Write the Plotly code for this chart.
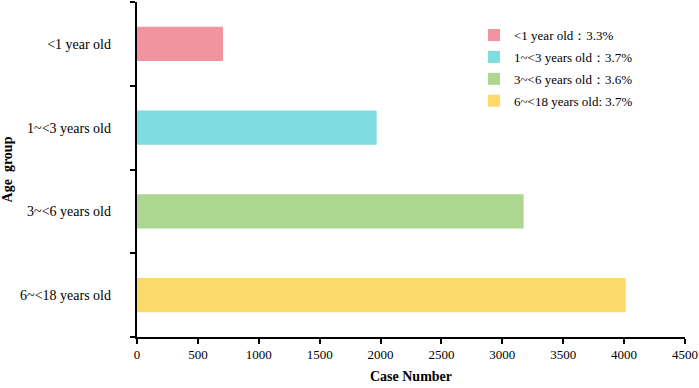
import plotly.graph_objects as go

categories = ["<1 year old", "1~<3 years old", "3~<6 years old", "6~<18 years old"]
case_numbers = [706, 1968, 3175, 4013]
legend_labels = ["<1 year old：3.3%", "1~<3 years old：3.7%", "3~<6 years old：3.6%", "6~<18 years old: 3.7%"]
colors = ["#F2949F", "#7EDDDE", "#ADD690", "#FDD96A"]
x_ticks = [0, 500, 1000, 1500, 2000, 2500, 3000, 3500, 4000, 4500]

FONT = "Liberation Serif, Times New Roman, serif"

positions = list(range(len(categories)))
boundaries = [p - 0.5 for p in positions] + [positions[-1] + 0.5]
yrange = [positions[-1] + 0.5, positions[0] - 0.5]

fig = go.Figure()
for pos, val, lab, col in zip(positions, case_numbers, legend_labels, colors):
    fig.add_trace(go.Bar(
        y=[pos], x=[val], orientation="h", name=lab, legendgroup=lab,
        marker=dict(color=col, line=dict(width=0)),
        width=0.41,
    ))
# invisible helper trace so the label axis is drawn
fig.add_trace(go.Scatter(x=[0], y=[positions[0]], yaxis="y2", mode="markers",
                         marker=dict(opacity=0), showlegend=False, hoverinfo="skip"))

fig.update_layout(
    width=699, height=388,
    margin=dict(l=137, r=14, t=2, b=51),
    paper_bgcolor="white", plot_bgcolor="white",
    barmode="overlay",
    font=dict(family=FONT, size=13, color="black"),
    legend=dict(
        x=0.615, y=0.946, xanchor="left", yanchor="top",
        font=dict(family=FONT, size=13, color="black"),
        bgcolor="rgba(0,0,0,0)", itemwidth=30, tracegroupgap=2,
    ),
    xaxis=dict(
        range=[0, 4500], tickvals=x_ticks, ticktext=[str(v) for v in x_ticks],
        showgrid=False, zeroline=False,
        showline=True, linecolor="black", linewidth=1.5,
        ticks="outside", ticklen=5, tickcolor="black", tickwidth=1.5,
        title=dict(text="<b>Case Number</b>", font=dict(family=FONT, size=14), standoff=10),
        tickfont=dict(family=FONT, size=13),
        automargin=False,
    ),
    yaxis=dict(
        range=yrange, tickmode="array", tickvals=boundaries,
        ticktext=[" "] * len(boundaries),
        showgrid=False, zeroline=False, showticklabels=True,
        showline=True, linecolor="black", linewidth=1.5,
        ticks="outside", ticklen=5, tickcolor="black", tickwidth=1.5,
        automargin=False,
    ),
    yaxis2=dict(
        overlaying="y", side="left", range=yrange,
        tickvals=positions, ticktext=categories,
        showgrid=False, zeroline=False, showline=False,
        ticks="", ticklabelstandoff=25,
        title=dict(text="<b>Age  group</b>", font=dict(family=FONT, size=14), standoff=4),
        tickfont=dict(family=FONT, size=14),
        automargin=False,
    ),
)

fig.write_html("out.html")
